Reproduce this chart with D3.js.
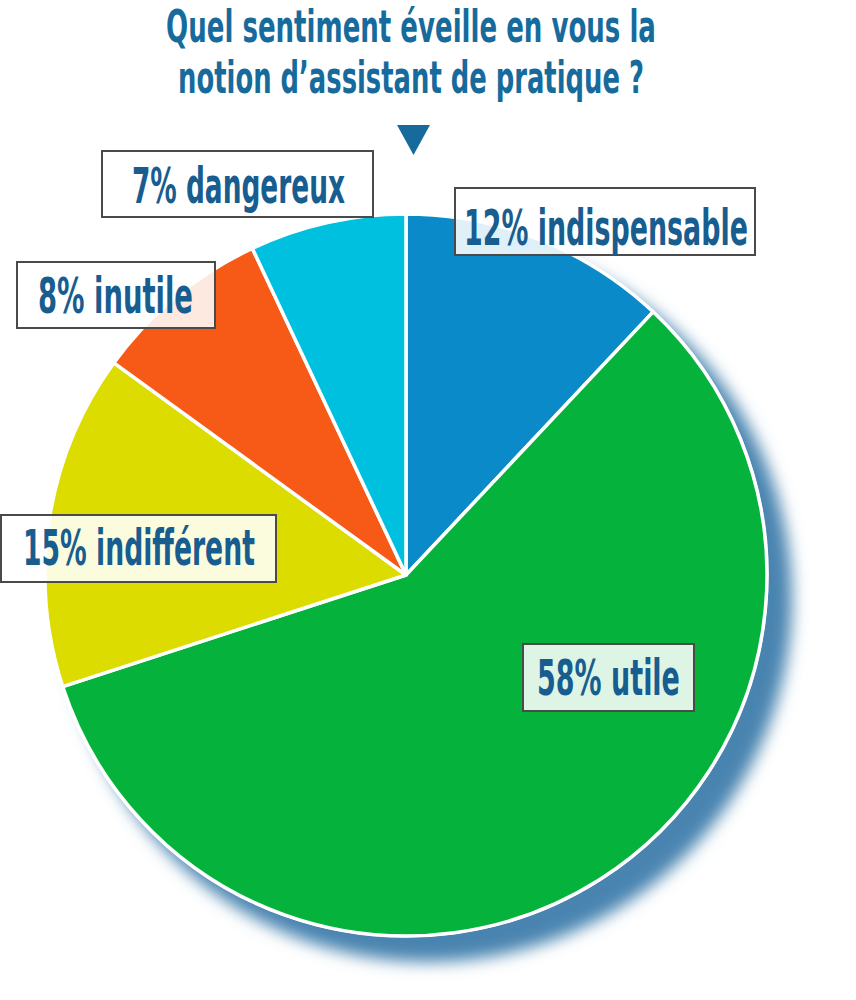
<!DOCTYPE html>
<html>
<head>
<meta charset="utf-8">
<script src="https://cdn.jsdelivr.net/npm/d3@7/dist/d3.min.js"></script>
<style>
  html, body { margin: 0; padding: 0; background: #ffffff; }
  svg { display: block; }
  text { font-family: "Liberation Sans Narrow", "DejaVu Sans Condensed", "Roboto", sans-serif; font-weight: bold; }
</style>
</head>
<body>
<svg id="chart" width="856" height="1000"></svg>
<script>
// ---- data ----
const titleLines = ["Quel sentiment éveille en vous la", "notion d\u2019assistant de pratique ?"];
const categories = ["indispensable", "utile", "indifférent", "inutile", "dangereux"];
const values = [12, 58, 15, 8, 7];
const sliceColors = ["#0a8ac8", "#05b33c", "#dcdc00", "#f65a16", "#00c0e0"];

// ---- layout (label boxes & text positions) ----
const labelLayout = [
  { box: [455, 188, 300, 67], tx: 464, tw: 284, ty: 245 },   // indispensable
  { box: [523, 644, 171, 67], tx: 537, tw: 143, ty: 695 },   // utile
  { box: [1, 515, 275, 67],   tx: 23,  tw: 232, ty: 565 },   // indifférent
  { box: [17, 262, 198, 66],  tx: 38,  tw: 155, ty: 313 },   // inutile
  { box: [102, 151, 271, 66], tx: 132, tw: 213, ty: 203 }    // dangereux
];

const W = 856, H = 1000;
const cx = 406, cy = 575, R = 361;
const svg = d3.select("#chart");

// fit a text horizontally to a given width by scaling
function fitText(sel, x, y, width, anchor) {
  const w = sel.node().getComputedTextLength();
  const s = width / w;
  sel.attr("x", 0).attr("y", 0)
     .attr("text-anchor", anchor)
     .attr("transform", `translate(${x},${y}) scale(${s},1)`);
}

// defs: shadow blur
const defs = svg.append("defs");
defs.append("filter").attr("id", "blur")
  .attr("x", "-20%").attr("y", "-20%").attr("width", "140%").attr("height", "140%")
  .append("feGaussianBlur").attr("stdDeviation", 8);

// title
const title = svg.append("g");
const titleY = [42, 93];
const titleW = [490, 466];
titleLines.forEach((t, i) => {
  const tx = title.append("text")
    .attr("font-size", 45)
    .attr("fill", "#176b9c")
    .text(t);
  fitText(tx, 411, titleY[i], titleW[i], "middle");
});
// arrow triangle
title.append("path")
  .attr("d", d3.line()([[397, 125], [430, 125], [413.5, 155]]) + "Z")
  .attr("fill", "#176b9c");

// shadow
svg.append("circle")
  .attr("cx", cx + 22).attr("cy", cy + 23).attr("r", R + 3)
  .attr("fill", "#4a84b0")
  .attr("filter", "url(#blur)");

// pie
const pie = d3.pie().sort(null).value(d => d.v);
const arcs = pie(values.map((v, i) => ({ v, cat: categories[i], color: sliceColors[i] })));
const arc = d3.arc().innerRadius(0).outerRadius(R);

const g = svg.append("g").attr("transform", `translate(${cx},${cy})`);
g.append("circle").attr("r", R + 1.5).attr("fill", "#ffffff");
g.selectAll("path.slice")
  .data(arcs)
  .join("path")
  .attr("class", "slice")
  .attr("d", arc)
  .attr("fill", d => d.data.color)
  .attr("stroke", "#ffffff")
  .attr("stroke-width", 3.5)
  .attr("stroke-linejoin", "round");

// labels
const lab = svg.append("g");
arcs.forEach((d, i) => {
  const L = labelLayout[i];
  lab.append("rect")
    .attr("x", L.box[0]).attr("y", L.box[1])
    .attr("width", L.box[2]).attr("height", L.box[3])
    .attr("fill", "#ffffff").attr("fill-opacity", 0.87)
    .attr("stroke", "#4a4a4a").attr("stroke-width", 2);
  const t = lab.append("text")
    .attr("font-size", 50)
    .attr("fill", "#185d90")
    .text(`${d.data.v}% ${d.data.cat}`);
  fitText(t, L.tx, L.ty, L.tw, "start");
});
</script>
</body>
</html>
